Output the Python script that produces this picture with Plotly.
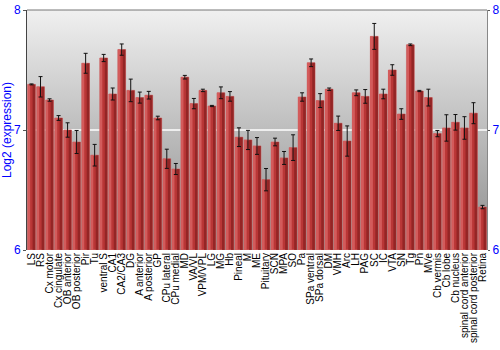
import plotly.graph_objects as go

regions = ["LS", "RS", "Cx motor", "Cx cingulate", "OB anterior", "OB posterior", "Pir", "Tu",
           "ventral S", "CA1", "CA2/CA3", "DG", "A anterior", "A posterior", "GP", "CPu lateral",
           "CPu medial", "MD", "VA/VL", "VPM/VPL", "LG", "MG", "Hb", "Pineal", "M", "ME",
           "Pituitary", "SCN", "MPA", "SO", "Pa", "SPa ventral", "SPa dorsal", "DM", "VMH", "Arc",
           "LH", "PAG", "SC", "IC", "VTA", "SN", "Tg", "Pn", "MVe", "Cb vermis", "Cb lobe",
           "Cb nucleus", "spinal cord anterior", "spinal cord posterior", "Retina"]

expression = [7.38, 7.36, 7.25, 7.10, 7.00, 6.90, 7.556, 6.79,
              7.60, 7.30, 7.67, 7.33, 7.27, 7.29, 7.10, 6.76,
              6.675, 7.44, 7.22, 7.33, 7.20, 7.31, 7.28, 6.94, 6.917, 6.867,
              6.586, 6.90, 6.767, 6.853, 7.275, 7.56, 7.245, 7.34, 7.056, 6.908,
              7.31, 7.28, 7.78, 7.30, 7.50, 7.133, 7.71, 7.325, 7.27, 6.97, 7.017,
              7.064, 7.017, 7.14, 6.358]

error = [0.004, 0.085, 0.01, 0.02, 0.06, 0.096, 0.083, 0.09,
         0.03, 0.05, 0.047, 0.094, 0.046, 0.032, 0.015, 0.08,
         0.046, 0.015, 0.043, 0.01, 0.005, 0.049, 0.04, 0.078, 0.08, 0.07,
         0.093, 0.032, 0.054, 0.107, 0.035, 0.032, 0.058, 0.01, 0.06, 0.126,
         0.024, 0.057, 0.108, 0.04, 0.044, 0.044, 0.007, 0.005, 0.07, 0.026, 0.11,
         0.065, 0.094, 0.0875, 0.014]

y_min, y_max = 6, 8
y_ticks = [6, 7, 8]
grid_value = 7
blue = "#0000ff"
font = "Liberation Sans, Arial, sans-serif"

n = len(regions)
x = list(range(n))
heights = [v - y_min for v in expression]
x_lo, x_hi = -0.5, n - 0.5

fig = go.Figure()

# background gradient (base subplot)
fig.add_trace(go.Scatter(
    x=[x_lo, x_hi, x_hi, x_lo, x_lo],
    y=[y_min, y_min, y_max, y_max, y_min],
    fill="toself", mode="lines", line=dict(width=0),
    fillgradient=dict(type="vertical",
                      colorscale=[[0, "#8e8e8e"], [0.5, "#bdbdbd"], [1, "#f0f0f0"]]),
    hoverinfo="skip", showlegend=False))
# white gridline at 7
fig.add_trace(go.Scatter(x=[x_lo, x_hi], y=[grid_value, grid_value], mode="lines",
                         line=dict(color="white", width=1.5), hoverinfo="skip",
                         showlegend=False))

# bars on overlay subplot (drawn above background)
fig.add_trace(go.Bar(
    x=x, y=heights, base=y_min, width=0.86, yaxis="y3",
    marker=dict(color="#b93636", line=dict(color="#cf6b6b", width=0.8)),
    showlegend=False))
fig.add_trace(go.Bar(
    x=x, y=heights, base=y_min, width=0.22, offset=-0.37, yaxis="y3",
    marker=dict(color="#d35b5b", line=dict(width=0)), showlegend=False))
fig.add_trace(go.Bar(
    x=x, y=heights, base=y_min, width=0.3, offset=0.12, yaxis="y3",
    marker=dict(color="#8c2222", line=dict(width=0)), opacity=0.8, showlegend=False))
fig.add_trace(go.Scatter(
    x=x, y=expression, mode="markers", yaxis="y3",
    marker=dict(size=1, color="rgba(0,0,0,0)"),
    error_y=dict(type="data", array=error, color="#111111", thickness=1, width=2),
    showlegend=False, hoverinfo="skip"))

# dummy for right axis
fig.add_trace(go.Scatter(x=[0], y=[y_min], yaxis="y2", mode="markers",
                         marker=dict(size=1, color="rgba(0,0,0,0)"), showlegend=False,
                         hoverinfo="skip"))

fig.update_layout(
    template="none",
    width=500, height=350,
    margin=dict(l=27, r=13, t=10, b=100),
    paper_bgcolor="white", plot_bgcolor="white",
    barmode="overlay",
    font=dict(family=font, color="black"),
    shapes=[dict(type="line", xref="paper", yref="paper", x0=0, x1=1, y0=1, y1=1,
                 line=dict(color="#777777", width=1), layer="above")],
    xaxis=dict(range=[x_lo, x_hi], tickmode="array", tickvals=x,
               ticktext=regions, tickangle=-90, tickfont=dict(size=10, color="black"),
               showgrid=False, zeroline=False, showline=False, ticks="", automargin=False),
    yaxis=dict(range=[y_min, y_max], tickvals=y_ticks, ticks="outside", ticklen=3,
               tickcolor="#555555", tickfont=dict(size=12, color=blue),
               showgrid=False, zeroline=False, showline=True, linecolor="#444444",
               automargin=False,
               title=dict(text="Log2 (expression)", font=dict(size=12, color=blue), standoff=2)),
    yaxis2=dict(range=[y_min, y_max], tickvals=y_ticks, overlaying="y", side="right",
                ticks="outside", ticklen=2, tickcolor="#555555",
                tickfont=dict(size=12, color=blue), showgrid=False, zeroline=False,
                showline=True, linecolor="#888888", automargin=False),
    yaxis3=dict(range=[y_min, y_max], overlaying="y", visible=False, showgrid=False,
                zeroline=False),
)

fig.write_html("out.html")
